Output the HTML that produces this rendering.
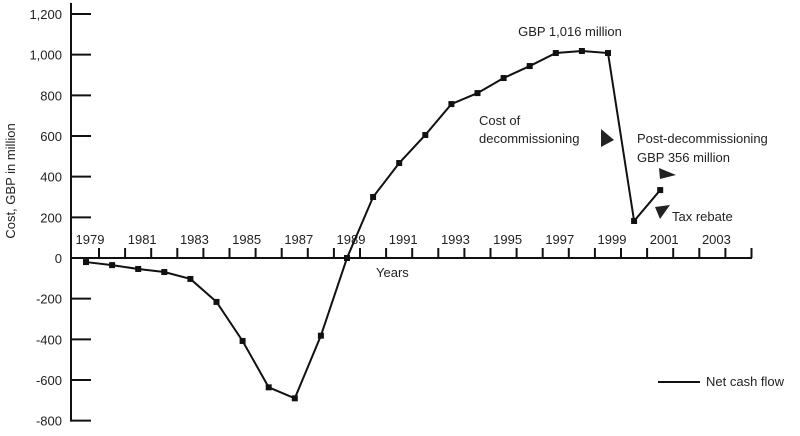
<!DOCTYPE html>
<html><head><meta charset="utf-8"><style>
body{margin:0;background:#fff;}
svg{display:block;font-family:"Liberation Sans",Arial,sans-serif;}
text{fill:#222;}
</style></head><body>
<svg width="800" height="436" viewBox="0 0 800 436">
<g id="axes"></g>
<g id="marks"></g>
<text x="15" y="181" font-size="13" text-anchor="middle" transform="rotate(-90 15 181)">Cost, GBP in million</text>
<text x="376" y="277" font-size="13">Years</text>
<text x="570" y="36" font-size="13" text-anchor="middle">GBP 1,016 million</text>
<text x="479" y="125" font-size="13">Cost of</text>
<text x="479" y="143" font-size="13">decommissioning</text>
<polygon points="601,129 601,147 614,140" fill="#222"/>
<text x="637" y="143" font-size="13">Post-decommissioning</text>
<text x="637" y="162" font-size="13">GBP 356 million</text>
<polygon points="659,168 676,175 660,179" fill="#222"/>
<polygon points="655,207 670,205 660,219" fill="#222"/>
<text x="672" y="221" font-size="13">Tax rebate</text>
<line x1="658" y1="382" x2="700" y2="382" stroke="#111" stroke-width="2"/>
<text x="706" y="386" font-size="13">Net cash flow</text>
</svg>
<script>
const years = [1979,1980,1981,1982,1983,1984,1985,1986,1987,1988,1989,1990,1991,1992,1993,1994,1995,1996,1997,1998,1999,2000,2001];
const values = [-20,-35,-54,-69,-103,-216,-408,-636,-690,-382,0,300,467,605,757,811,885,944,1008,1018,1008,182,334];
const yTicks = [1200,1000,800,600,400,200,0,-200,-400,-600,-800];
const yTickLabels = ["1,200","1,000","800","600","400","200","0","-200","-400","-600","-800"];
const xLabelYears = [1979,1981,1983,1985,1987,1989,1991,1993,1995,1997,1999,2001,2003];
const NS = "http://www.w3.org/2000/svg";
function y(v){ return 258 - v * 40.67 / 200; }
function x(yr){ return 86 + (yr - 1979) * 26.1; }
function mk(tag, attrs, parent){ const e=document.createElementNS(NS,tag); for(const k in attrs) e.setAttribute(k,attrs[k]); parent.appendChild(e); return e; }
const axes=document.getElementById('axes');
const ya=mk('line',{x1:71,y1:y(1250)-1,x2:71,y2:y(-800)+1,stroke:'#111','stroke-width':2},axes);


yTicks.forEach((v,i)=>{
  const t=mk('line',{x1:71,y1:y(v),x2:91,y2:y(v),stroke:'#111','stroke-width':2},axes);
  
  
  const l=mk('text',{x:62,y:y(v)+5,'font-size':13,'text-anchor':'end'},axes);
  l.textContent=yTickLabels[i];
  
  
});
const xa=mk('line',{x1:71,y1:258,x2:752,y2:258,stroke:'#111','stroke-width':2},axes);


for(let yr=1979; yr<=2004; yr++){
  const px=x(yr)+13;
  const t=mk('line',{x1:px,y1:248,x2:px,y2:258,stroke:'#111','stroke-width':2},axes);
  
  
}
xLabelYears.forEach(yr=>{
  const l=mk('text',{x:x(yr)+4,y:244,'font-size':13,'text-anchor':'middle'},axes);
  l.textContent=String(yr);
  
  
});
const marks=document.getElementById('marks');
const pts=years.map((yr,i)=>x(yr)+','+y(values[i]));
const line=mk('polyline',{points:pts.join(' '),fill:'none',stroke:'#111','stroke-width':2},marks);


years.forEach((yr,i)=>{
  const r=mk('rect',{x:x(yr)-3,y:y(values[i])-3,width:6,height:6,fill:'#111'},marks);
  
  
});
</script>
</body></html>
